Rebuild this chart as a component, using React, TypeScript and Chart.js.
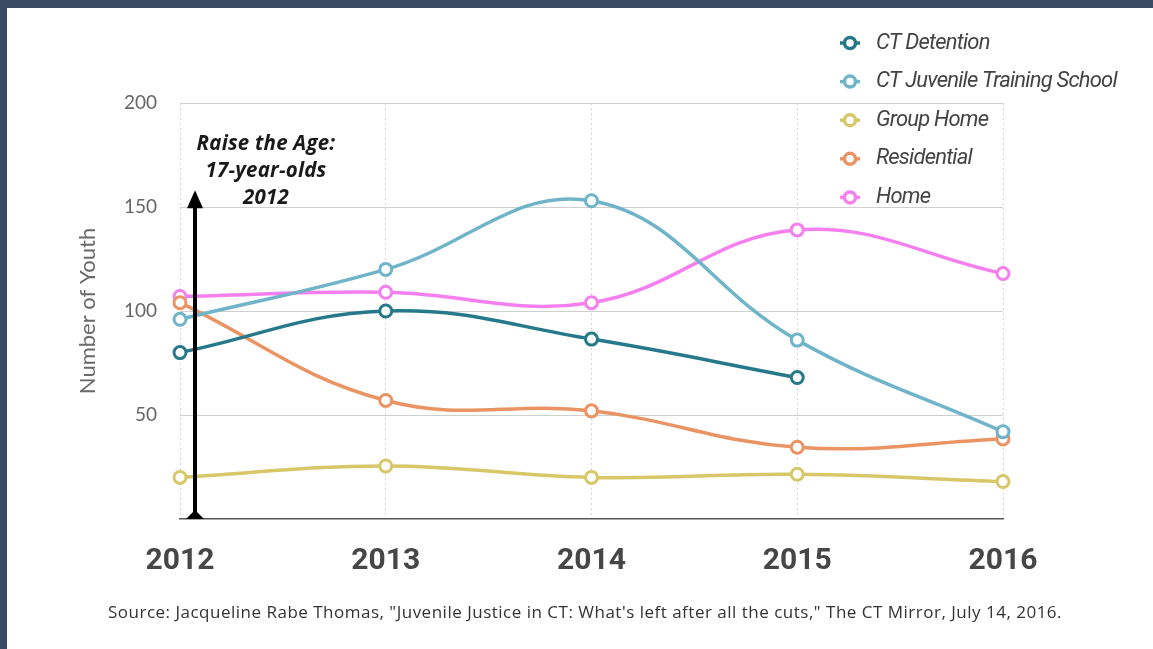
import React, { useEffect, useRef } from "react";
import { Chart, registerables } from "chart.js";

Chart.register(...registerables);

const years = ["2012", "2013", "2014", "2015", "2016"];
const seriesNames = ["CT Detention", "CT Juvenile Training School", "Group Home", "Residential", "Home"];
const ctDetention = [80, 100, 86.5, 68, null];
const ctJuvenileTrainingSchool = [96, 120, 153, 86, 42];
const groupHome = [20, 25.5, 20, 21.5, 18];
const residential = [104, 57, 52, 34.5, 38.5];
const home = [107, 109, 104, 139, 118];
const seriesColors = ["#26788b", "#70b4c9", "#d8c769", "#ea9463", "#f67ff0"];
const yTicks = [50, 100, 150, 200];
const annotationLines = ["Raise the Age:", "17-year-olds", "2012"];
const sourceText =
  'Source: Jacqueline Rabe Thomas, "Juvenile Justice in CT: What\'s left after all the cuts," The CT Mirror, July 14, 2016.';

const overlayPlugin = {
  id: "overlay",
  afterDatasetsDraw(chart: any) {
    const { ctx, scales } = chart;
    const x = scales.x;
    const y = scales.y;
    ctx.save();
    // annotation arrow
    const ax = x.getPixelForValue(0) + 15;
    const yBottom = y.getPixelForValue(0);
    const yTip = y.getPixelForValue(158);
    ctx.strokeStyle = "#000";
    ctx.fillStyle = "#000";
    ctx.lineWidth = 4;
    ctx.beginPath();
    ctx.moveTo(ax, yBottom);
    ctx.lineTo(ax, yTip + 14);
    ctx.stroke();
    ctx.beginPath();
    ctx.moveTo(ax, yTip);
    ctx.lineTo(ax - 8, yTip + 18);
    ctx.lineTo(ax + 8, yTip + 18);
    ctx.closePath();
    ctx.fill();
    ctx.beginPath();
    ctx.moveTo(ax, yBottom - 9);
    ctx.lineTo(ax - 9, yBottom);
    ctx.lineTo(ax + 9, yBottom);
    ctx.closePath();
    ctx.fill();
    ctx.font = "italic bold 20.5px 'Open Sans'";
    (ctx as any).letterSpacing = "0.2px";
    ctx.fillStyle = "#1a1a1a";
    ctx.textAlign = "center";
    ctx.textBaseline = "middle";
    annotationLines.forEach((t, i) => ctx.fillText(t, ax + 71, 144 + i * 27));
    (ctx as any).letterSpacing = "0px";
    ctx.restore();
  },
  afterDraw(chart: any) {
    const { ctx } = chart;
    ctx.save();
    // legend
    chart.data.datasets.forEach((ds: any, i: number) => {
      const cy = 43 + i * 38.6;
      const cx = 850;
      ctx.strokeStyle = ds.borderColor;
      ctx.lineWidth = 3.5;
      ctx.beginPath();
      ctx.moveTo(cx - 10, cy);
      ctx.lineTo(cx + 10, cy);
      ctx.stroke();
      ctx.beginPath();
      ctx.arc(cx, cy, 5.5, 0, Math.PI * 2);
      ctx.fillStyle = "#fff";
      ctx.fill();
      ctx.stroke();
      ctx.font = "italic 22px Roboto";
      (ctx as any).letterSpacing = "-0.8px";
      ctx.fillStyle = "#444";
      ctx.textAlign = "left";
      ctx.textBaseline = "middle";
      ctx.fillText(ds.label, 876, cy);
      (ctx as any).letterSpacing = "0px";
    });
    // source
    ctx.font = "17px 'Open Sans'";
    (ctx as any).letterSpacing = "0.5px";
    ctx.fillStyle = "#333";
    ctx.textAlign = "center";
    ctx.textBaseline = "middle";
    ctx.fillText(sourceText, 585, 613);
    (ctx as any).letterSpacing = "0px";
    ctx.restore();
  },
};

export default function App() {
  const canvasRef = useRef<HTMLCanvasElement | null>(null);

  useEffect(() => {
    document.body.style.margin = "0";
    const canvas = canvasRef.current;
    if (!canvas) return;
    const allSeries = [ctDetention, ctJuvenileTrainingSchool, groupHome, residential, home];
    const chart = new Chart(canvas, {
      type: "line",
      data: {
        labels: years,
        datasets: allSeries.map((data, i) => ({
          label: seriesNames[i],
          data,
          borderColor: seriesColors[i],
          backgroundColor: seriesColors[i],
          borderWidth: 3.5,
          tension: 0.4,
          pointRadius: 6,
          pointBorderWidth: 3,
          pointBackgroundColor: "#fff",
          pointBorderColor: seriesColors[i],
          spanGaps: false,
        })),
      },
      options: {
        responsive: false,
        animation: false,
        devicePixelRatio: 1,
        layout: { padding: { left: 0, top: 103, right: 150, bottom: 0 } },
        plugins: { legend: { display: false }, tooltip: { enabled: false } },
        scales: {
          x: {
            offset: false,
            grid: {
              color: "#d6d6d6",
              drawTicks: false,
            },
            border: { display: true, color: "#555", width: 1.5, dash: [2, 3] },
            ticks: {
              padding: 24,
              color: "#464646",
              font: { family: "Roboto", size: 30, weight: "bold" },
            },
            afterFit: (s: any) => {
              s.height = 130;
            },
          },
          y: {
            min: 0,
            max: 200,
            afterBuildTicks: (s: any) => {
              s.ticks = yTicks.map((v) => ({ value: v }));
            },
            grid: { color: "#cfcfcf", drawTicks: false, lineWidth: 1 },
            border: { display: false },
            ticks: {
              padding: 23,
              color: "#666",
              font: { family: "Lato", size: 19 },
            },
            title: {
              display: true,
              text: "Number of Youth",
              color: "#6a6a6a",
              font: { family: "Lato", size: 22, weight: "normal" },
              padding: { top: 75, bottom: 0 },
            },
            afterFit: (s: any) => {
              s.width = 180;
            },
          },
        },
      },
      plugins: [overlayPlugin],
    });
    return () => chart.destroy();
  }, []);

  return (
    <div style={{ position: "relative", width: 1153, height: 649, background: "#fff", overflow: "hidden" }}>
      <div style={{ position: "absolute", left: 0, top: 0, width: 1153, height: 8, background: "#3b4b63" }} />
      <div style={{ position: "absolute", left: 0, top: 0, width: 7, height: 649, background: "#3b4b63" }} />
      <canvas ref={canvasRef} width={1153} height={649} style={{ position: "absolute", left: 0, top: 0 }} />
    </div>
  );
}
